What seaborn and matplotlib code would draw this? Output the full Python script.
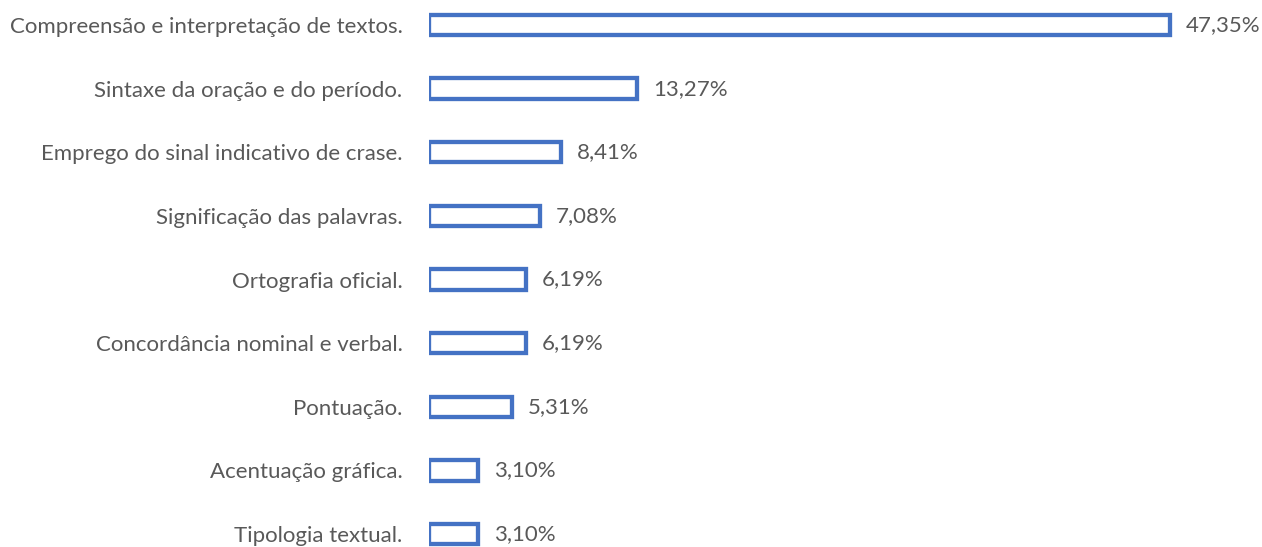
import matplotlib
matplotlib.use("Agg")
import matplotlib.pyplot as plt
import seaborn as sns
import pandas as pd

categories = [
    "Compreensão e interpretação de textos.",
    "Sintaxe da oração e do período.",
    "Emprego do sinal indicativo de crase.",
    "Significação das palavras.",
    "Ortografia oficial.",
    "Concordância nominal e verbal.",
    "Pontuação.",
    "Acentuação gráfica.",
    "Tipologia textual.",
]
values = [47.35, 13.27, 8.41, 7.08, 6.19, 6.19, 5.31, 3.10, 3.10]
value_labels = ["47,35%", "13,27%", "8,41%", "7,08%", "6,19%", "6,19%", "5,31%", "3,10%", "3,10%"]

sns.set_style("white")
plt.rcParams['font.family'] = ['Lato', 'DejaVu Sans']

df = pd.DataFrame({"cat": categories, "val": values})

fig = plt.figure(figsize=(12.62, 5.47), dpi=100)
ax = fig.add_axes([429 / 1262, 0, 814 / 1262, 1])

sns.barplot(data=df, x="val", y="cat", orient="h", color="white",
            edgecolor="#4472C4", linewidth=3.1, width=0.32, ax=ax,
            saturation=1)

ax.set_xlim(0, 52)
ax.set_ylim(8 + 13 / 63.625, -25 / 63.625)

for i, (v, lab) in enumerate(zip(values, value_labels)):
    ax.annotate(lab, xy=(v, i), xytext=(16, 0), textcoords="offset pixels",
                va="center", ha="left", fontsize=16, color="#595959")

ax.set_xlabel("")
ax.set_ylabel("")
ax.set_xticks([])
ax.tick_params(axis="y", length=0, pad=19, labelsize=16, labelcolor="#595959")
for s in ax.spines.values():
    s.set_visible(False)

fig.savefig("out.png", dpi=100)
